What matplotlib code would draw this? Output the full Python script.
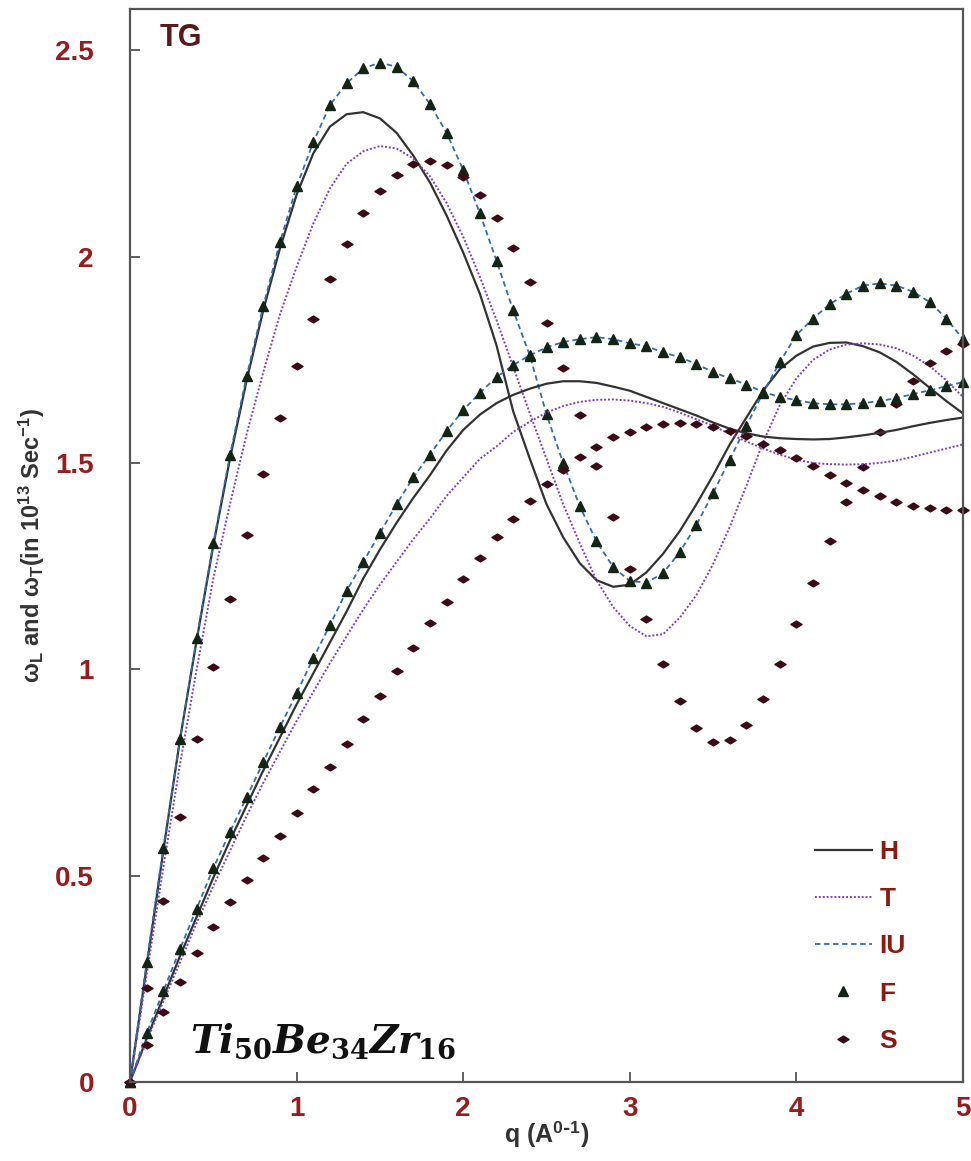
import numpy as np
import matplotlib.pyplot as plt
from matplotlib.path import Path

plt.rcParams['font.family'] = ['Liberation Sans', 'DejaVu Sans']
plt.rcParams['mathtext.fontset'] = 'custom'
plt.rcParams['mathtext.rm'] = 'DejaVu Serif:bold'
plt.rcParams['mathtext.it'] = 'DejaVu Serif:italic:bold'
plt.rcParams['mathtext.sf'] = 'Liberation Sans:bold'

# wave vector q (A^-1), step 0.1
q = np.round(np.arange(0, 5.01, 0.1), 1)

# longitudinal branch (omega_L)
h_long = [0, 0.28, 0.56, 0.83, 1.07, 1.30, 1.51, 1.70, 1.87, 2.02, 2.15, 2.25, 2.315, 2.345, 2.35,
          2.335, 2.30, 2.245, 2.18, 2.10, 2.01, 1.91, 1.785, 1.625, 1.51, 1.40, 1.32, 1.257, 1.216,
          1.20, 1.205, 1.235, 1.28, 1.335, 1.40, 1.47, 1.545, 1.61, 1.675, 1.727, 1.76, 1.782, 1.791,
          1.792, 1.783, 1.768, 1.745, 1.715, 1.682, 1.65, 1.62]
t_long = [0, 0.26, 0.52, 0.77, 1.00, 1.22, 1.40, 1.57, 1.72, 1.86, 1.975, 2.08, 2.165, 2.225, 2.255,
          2.268, 2.262, 2.238, 2.195, 2.13, 2.048, 1.951, 1.846, 1.733, 1.62, 1.51, 1.40, 1.305, 1.216,
          1.151, 1.105, 1.08, 1.085, 1.125, 1.18, 1.255, 1.345, 1.445, 1.55, 1.64, 1.705, 1.75, 1.775,
          1.787, 1.79, 1.787, 1.778, 1.76, 1.735, 1.70, 1.66]
iu_long = [0, 0.29, 0.567, 0.83, 1.075, 1.305, 1.519, 1.71, 1.88, 2.035, 2.17, 2.277, 2.367, 2.42,
           2.456, 2.47, 2.46, 2.425, 2.37, 2.30, 2.21, 2.105, 1.99, 1.87, 1.76, 1.618, 1.50, 1.395,
           1.31, 1.248, 1.214, 1.21, 1.233, 1.284, 1.35, 1.427, 1.508, 1.59, 1.67, 1.744, 1.81, 1.85,
           1.885, 1.91, 1.93, 1.935, 1.93, 1.915, 1.89, 1.85, 1.80]
f_long = [0, 0.29, 0.567, 0.83, 1.075, 1.305, 1.519, 1.71, 1.88, 2.035, 2.17, 2.277, 2.367, 2.42,
          2.456, 2.47, 2.46, 2.425, 2.37, 2.30, 2.21, 2.105, 1.99, 1.87, 1.76, 1.618, 1.50, 1.395,
          1.31, 1.248, 1.214, 1.21, 1.233, 1.284, 1.35, 1.427, 1.508, 1.59, 1.67, 1.744, 1.81, 1.85,
          1.885, 1.91, 1.93, 1.935, 1.93, 1.915, 1.89, 1.85, 1.80]
s_long = [0, 0.228, 0.438, 0.642, 0.83, 1.005, 1.17, 1.325, 1.473, 1.61, 1.735, 1.848, 1.945, 2.03,
          2.105, 2.16, 2.197, 2.224, 2.231, 2.222, 2.192, 2.149, 2.093, 2.02, 1.938, 1.838, 1.731,
          1.616, 1.492, 1.368, 1.244, 1.123, 1.014, 0.923, 0.858, 0.824, 0.828, 0.865, 0.928, 1.014,
          1.11, 1.208, 1.311, 1.406, 1.49, 1.574, 1.644, 1.699, 1.743, 1.771, 1.788]

# transverse branch (omega_T)
h_trans = [0, 0.105, 0.205, 0.305, 0.40, 0.495, 0.585, 0.67, 0.755, 0.835, 0.915, 0.99, 1.065, 1.14,
           1.22, 1.29, 1.355, 1.415, 1.47, 1.53, 1.58, 1.617, 1.645, 1.665, 1.68, 1.692, 1.698, 1.698,
           1.694, 1.685, 1.675, 1.66, 1.645, 1.63, 1.615, 1.598, 1.583, 1.572, 1.564, 1.56, 1.558,
           1.557, 1.558, 1.562, 1.567, 1.573, 1.58, 1.589, 1.597, 1.604, 1.61]
t_trans = [0, 0.10, 0.195, 0.29, 0.385, 0.475, 0.56, 0.645, 0.725, 0.80, 0.875, 0.945, 1.015, 1.08,
           1.145, 1.205, 1.26, 1.315, 1.365, 1.42, 1.465, 1.51, 1.54, 1.575, 1.60, 1.622, 1.638, 1.648,
           1.653, 1.654, 1.651, 1.645, 1.636, 1.622, 1.606, 1.59, 1.57, 1.552, 1.535, 1.52, 1.508,
           1.50, 1.497, 1.496, 1.497, 1.50, 1.506, 1.515, 1.525, 1.535, 1.545]
iu_trans = [0, 0.118, 0.22, 0.322, 0.42, 0.518, 0.606, 0.69, 0.775, 0.86, 0.942, 1.027, 1.107, 1.19,
            1.26, 1.33, 1.40, 1.465, 1.52, 1.577, 1.628, 1.67, 1.708, 1.737, 1.761, 1.78, 1.793, 1.80,
            1.805, 1.80, 1.79, 1.783, 1.768, 1.756, 1.74, 1.72, 1.705, 1.69, 1.672, 1.66, 1.652, 1.645,
            1.642, 1.642, 1.645, 1.65, 1.657, 1.667, 1.676, 1.686, 1.696]
f_trans = [0, 0.118, 0.22, 0.322, 0.42, 0.518, 0.606, 0.69, 0.775, 0.86, 0.942, 1.027, 1.107, 1.19,
           1.26, 1.33, 1.40, 1.465, 1.52, 1.577, 1.628, 1.67, 1.708, 1.737, 1.761, 1.78, 1.793, 1.80,
           1.805, 1.80, 1.79, 1.783, 1.768, 1.756, 1.74, 1.72, 1.705, 1.69, 1.672, 1.66, 1.652, 1.645,
           1.642, 1.642, 1.645, 1.65, 1.657, 1.667, 1.676, 1.686, 1.696]
s_trans = [0, 0.09, 0.169, 0.242, 0.312, 0.375, 0.435, 0.489, 0.543, 0.597, 0.652, 0.709, 0.764, 0.82,
           0.879, 0.935, 0.996, 1.052, 1.111, 1.164, 1.218, 1.27, 1.32, 1.364, 1.408, 1.449, 1.483,
           1.515, 1.539, 1.562, 1.575, 1.587, 1.594, 1.597, 1.594, 1.587, 1.578, 1.565, 1.547, 1.531,
           1.511, 1.492, 1.47, 1.452, 1.434, 1.42, 1.406, 1.396, 1.39, 1.386, 1.386]

tick_red = '#9a1b1b'
flat_diamond = Path([(-1, 0), (0, 0.62), (1, 0), (0, -0.62), (-1, 0)],
                    [Path.MOVETO, Path.LINETO, Path.LINETO, Path.LINETO, Path.CLOSEPOLY])

fig = plt.figure(figsize=(9.71, 11.61), dpi=100)
ax = fig.add_axes([130 / 971, 79 / 1161, 833 / 971, 1073 / 1161])

for i, (hl, tl, il, fl, sl) in enumerate([(h_long, t_long, iu_long, f_long, s_long),
                                          (h_trans, t_trans, iu_trans, f_trans, s_trans)]):
    ax.plot(q, hl, color='#333333', lw=1.6, label='H' if i == 0 else None)
    ax.plot(q, tl, color='#7b3fc4', lw=1.4, ls=(0, (1, 1)), label='T' if i == 0 else None)
    ax.plot(q, il, color='#2f6fae', lw=1.3, ls=(0, (3, 2)), label='IU' if i == 0 else None)
    ax.plot(q, fl, ls='none', marker='^', ms=7, color='#142414', label='F' if i == 0 else None,
            clip_on=False)
    ax.plot(q, sl, ls='none', marker=flat_diamond, ms=8, color='#3b0a14',
            label='S' if i == 0 else None, clip_on=False)

ax.set_xlim(0, 5)
ax.set_ylim(0, 2.6)
ax.set_xticks([0, 1, 2, 3, 4, 5])
ax.set_yticks([0, 0.5, 1, 1.5, 2, 2.5])
ax.set_yticklabels(['0', '0.5', '1', '1.5', '2', '2.5'])
ax.tick_params(direction='in', length=7, width=1.2, color='#444444', labelsize=20,
               labelcolor=tick_red)
ax.tick_params(axis='y', pad=26)
ax.tick_params(axis='x', pad=10)
for lab in ax.get_xticklabels() + ax.get_yticklabels():
    lab.set_fontweight('bold')
for sp in ax.spines.values():
    sp.set_color('#555555')
    sp.set_linewidth(1.6)

ax.set_xlabel(r'q (A$^{\mathsf{0\text{-}1}}$)', fontsize=18, fontweight='bold', color='#333333',
              labelpad=-2)
ax.set_ylabel(r'$\mathsf{\omega}_{\mathsf{L}}$ and $\mathsf{\omega}_{\mathsf{T}}$(in 10$^{\mathsf{13}}$ Sec$^{\mathsf{-1}}$)',
              fontsize=17, fontweight='bold', color='#333333', labelpad=6)

ax.text(0.036, 0.987, 'TG', transform=ax.transAxes, fontsize=22, fontweight='bold',
        color='#5a1818', va='top')
ax.text(0.072, 0.02, r'$Ti_{50}Be_{34}Zr_{16}$', transform=ax.transAxes, fontsize=28,
        color='#111111', va='bottom')

leg = ax.legend(loc='lower right', bbox_to_anchor=(0.96, 0.005), frameon=False,
                handlelength=2.15, handletextpad=0.3, labelspacing=0.88, numpoints=1,
                labelcolor='#8b1a10', prop={'weight': 'bold', 'size': 19})

fig.savefig('out.png', dpi=100)
